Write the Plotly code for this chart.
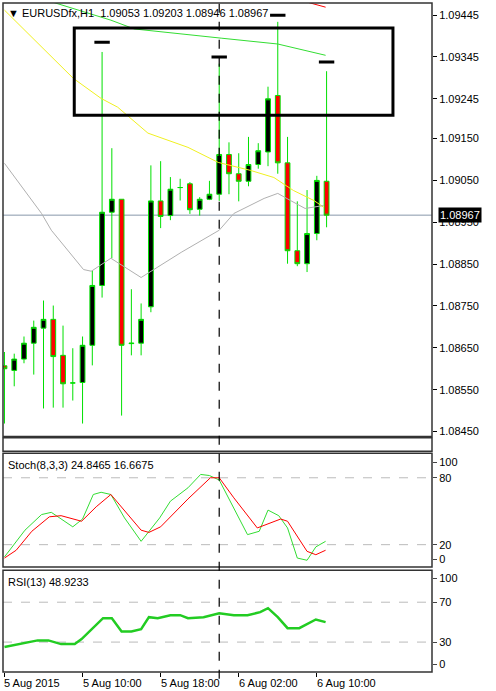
import plotly.graph_objects as go

# ---- data ----
idx = list(range(34))
opens = [1.08607,1.08596,1.08623,1.08661,1.08697,1.08718,1.08632,1.08566,1.08567,1.08656,1.08799,1.08974,1.09005,1.08660,1.08661,1.08748,1.09001,1.08966,1.09033,1.09042,1.08981,1.09005,1.09017,1.09112,1.09066,1.09048,1.09088,1.09118,1.09253,1.09092,1.08882,1.08851,1.08923,1.09048]
highs = [1.08640,1.08636,1.08677,1.08715,1.08763,1.08751,1.08703,1.08649,1.08677,1.08835,1.09357,1.09127,1.09005,1.08790,1.08756,1.09086,1.09096,1.09058,1.09054,1.09046,1.09010,1.09049,1.09329,1.09141,1.09115,1.09154,1.09139,1.09274,1.09429,1.09154,1.09000,1.09027,1.09061,1.09311]
lows = [1.08469,1.08558,1.08613,1.08586,1.08505,1.08507,1.08507,1.08524,1.08469,1.08608,1.08770,1.08864,1.08488,1.08632,1.08632,1.08735,1.08936,1.08955,1.09002,1.08970,1.08966,1.09003,1.09001,1.09017,1.09000,1.09036,1.09078,1.09084,1.09066,1.08851,1.08845,1.08831,1.08907,1.08938]
closes = [1.08600,1.08623,1.08661,1.08699,1.08718,1.08629,1.08564,1.08566,1.08656,1.08799,1.08974,1.09005,1.08656,1.08661,1.08718,1.09001,1.08964,1.09029,1.09033,1.08980,1.09005,1.09017,1.09112,1.09066,1.09048,1.09088,1.09121,1.09245,1.09092,1.08882,1.08851,1.08923,1.09050,1.08967]

marker_x = [10, 22, 28, 33]
marker_y = [1.09380, 1.09345, 1.09445, 1.09333]

ma_green_x = [3.5, 4.8, 10.9, 13.3, 22.2, 28.0, 32.9]
ma_green_y = [1.09500, 1.09477, 1.09433, 1.09412, 1.09390, 1.09376, 1.09349]
ma_red_x = [30.4, 32.9]
ma_red_y = [1.09480, 1.09464]
ma_yellow_x = [0, 7.05, 9.9, 11.6, 14.7, 18.8, 21.9, 25.2, 27.6, 29.6, 31.7, 32.7]
ma_yellow_y = [1.09457, 1.09294, 1.09246, 1.09225, 1.09163, 1.09129, 1.09093, 1.09074, 1.09057, 1.09026, 1.09002, 1.08986]
ma_gray_x = [0, 3.8, 4.8, 8.1, 8.9, 10.9, 14.0, 18.1, 22.0, 23.5, 26.6, 28.0, 29.3, 30.8, 32.7]
ma_gray_y = [1.09091, 1.08971, 1.08931, 1.08837, 1.08833, 1.08864, 1.08818, 1.08878, 1.08931, 1.08971, 1.09007, 1.09019, 1.09002, 1.08983, 1.08990]

stoch_main_x = [0, 2.1, 3.8, 4.8, 7, 8, 9.1, 9.9, 10.9, 12.3, 14, 15.9, 17, 18.8, 20.1, 21, 22, 24.9, 26.1, 27, 28.1, 29, 30, 31, 31.9, 32.9]
stoch_main_y = [9, 33, 47, 49, 36, 43, 65, 67, 65, 44, 23, 44, 59, 71, 83, 82, 78, 29, 32, 51, 46, 35, 8, 6, 18, 23]
stoch_sig_x = [0, 1.2, 2.8, 4.6, 5.8, 7.9, 9.4, 10.9, 14, 14.8, 16, 18.8, 21.1, 22, 23.5, 25.9, 28.3, 29, 31, 31.9, 32.9]
stoch_sig_y = [8, 15, 32, 45, 46, 41, 54, 65, 33, 31, 36, 61, 80, 80, 62, 35, 43, 41, 14, 11, 15]

rsi_x = [0, 1.7, 3.4, 4.5, 5.8, 7.2, 7.9, 10.1, 11, 12, 13, 14, 14.8, 15.7, 17, 18, 18.8, 20.4, 22, 23.5, 24.9, 26.2, 27, 28, 29, 30.2, 31.9, 32.9]
rsi_y = [25, 28.3, 31.7, 31.7, 28, 28, 33, 54, 54, 40.7, 40.7, 43, 55, 54, 57, 57, 54, 55, 59, 57, 57, 60, 64, 55, 44, 44, 52.7, 50]

last_price = 1.08967
box_x = [7.15, 39.8]
box_y = [1.09206, 1.09414]
vline_x = 22

price_ticks = [1.09445, 1.09345, 1.09245, 1.09150, 1.09050, 1.08950, 1.08850, 1.08750, 1.08650, 1.08550, 1.08450]
time_tick_x = [0, 8, 16, 24, 32]
time_tick_text = ["5 Aug 2015", "5 Aug 10:00", "5 Aug 18:00", "6 Aug 02:00", "6 Aug 10:00"]
title_text = "▼ EURUSDfx,H1  1.09053 1.09203 1.08946 1.08967"

# ---- figure ----
FONT = "Liberation Sans"
XR = [-0.15, 43.8]
fig = go.Figure()

fig.add_trace(go.Candlestick(x=idx, open=opens, high=highs, low=lows, close=closes,
    increasing=dict(line=dict(color="#00e000", width=1), fillcolor="black"),
    decreasing=dict(line=dict(color="#00e000", width=1), fillcolor="#ff0000"),
    whiskerwidth=0, xaxis="x", yaxis="y", showlegend=False))
for xs, ys, c in [(ma_green_x, ma_green_y, "#33dd33"), (ma_red_x, ma_red_y, "#ff0000"),
                  (ma_yellow_x, ma_yellow_y, "#f0f020"), (ma_gray_x, ma_gray_y, "#b0b0b0")]:
    fig.add_trace(go.Scatter(x=xs, y=ys, mode="lines", line=dict(color=c, width=1),
                             xaxis="x", yaxis="y", showlegend=False, hoverinfo="skip"))
fig.add_trace(go.Scatter(x=marker_x, y=marker_y, mode="markers",
    marker=dict(symbol="line-ew", size=11, line=dict(color="black", width=3)),
    xaxis="x", yaxis="y", showlegend=False))

fig.add_trace(go.Scatter(x=stoch_main_x, y=stoch_main_y, mode="lines", line=dict(color="#33dd33", width=1),
                         xaxis="x3", yaxis="y3", showlegend=False))
fig.add_trace(go.Scatter(x=stoch_sig_x, y=stoch_sig_y, mode="lines", line=dict(color="#ff0000", width=1),
                         xaxis="x3", yaxis="y3", showlegend=False))
fig.add_trace(go.Scatter(x=rsi_x, y=rsi_y, mode="lines", line=dict(color="#22cc22", width=2.5),
                         xaxis="x4", yaxis="y4", showlegend=False))

tickfont = dict(family=FONT, size=11, color="black")
def xa(anchor):
    return dict(range=XR, anchor=anchor, showgrid=False, zeroline=False, showticklabels=False,
                ticks="", rangeslider=dict(visible=False), fixedrange=True)

dom_main = [0.352, 1.0]
dom_empty = [0.330, 0.350]
dom_stoch = [0.157, 0.327]
dom_rsi = [0.0, 0.152]

fig.update_layout(
    width=496, height=691, margin=dict(l=3, r=64, t=3, b=19, autoexpand=False),
    paper_bgcolor="white", plot_bgcolor="white", showlegend=False,
    xaxis=xa("y"), xaxis2=xa("y2"), xaxis3=xa("y3"),
    xaxis4=dict(range=XR, anchor="y4", showgrid=False, zeroline=False, showticklabels=False,
                ticks="outside", ticklen=4, tickcolor="black", tickvals=time_tick_x),
    yaxis=dict(domain=dom_main, range=[1.08438, 1.09474], side="right", tickvals=price_ticks,
               ticktext=[f"{v:.5f}" for v in price_ticks], ticks="outside", ticklen=4, tickcolor="black",
               tickfont=tickfont, showgrid=False, zeroline=False, anchor="x"),
    yaxis2=dict(domain=dom_empty, range=[0, 1], showticklabels=False, showgrid=False, zeroline=False, anchor="x2"),
    yaxis3=dict(domain=dom_stoch, range=[0, 102], side="right", tickvals=[6.6, 20, 80, 94],
                ticktext=["0", "20", "80", "100"], ticks="outside", ticklen=4, tickfont=tickfont,
                showgrid=False, zeroline=False, anchor="x3"),
    yaxis4=dict(domain=dom_rsi, range=[0, 102], side="right", tickvals=[8, 30, 70, 94],
                ticktext=["0", "30", "70", "100"], ticks="outside", ticklen=4, tickfont=tickfont,
                showgrid=False, zeroline=False, anchor="x4"),
)

shapes = []
for d in [dom_main, dom_empty, dom_stoch, dom_rsi]:
    shapes.append(dict(type="rect", xref="paper", yref="paper", x0=0, x1=1, y0=d[0], y1=d[1],
                       line=dict(color="#333333", width=1.5)))
shapes.append(dict(type="rect", xref="x", yref="y", x0=box_x[0], x1=box_x[1], y0=box_y[0], y1=box_y[1],
                   line=dict(color="black", width=3)))
shapes.append(dict(type="line", xref="x", yref="y", x0=XR[0], x1=XR[1], y0=last_price, y1=last_price,
                   line=dict(color="#8898aa", width=1), layer="below"))
for yref, lv in [("y3", 20), ("y3", 80), ("y4", 30), ("y4", 70)]:
    shapes.append(dict(type="line", xref="x3" if yref == "y3" else "x4", yref=yref, x0=XR[0], x1=XR[1],
                       y0=lv, y1=lv, line=dict(color="#bbbbbb", width=1, dash="dash"), layer="below"))
shapes.append(dict(type="line", xref="x", yref="paper", x0=vline_x, x1=vline_x, y0=-0.01, y1=1,
                   line=dict(color="black", width=1.2, dash="dash")))
fig.update_layout(shapes=shapes)

ann = [
    dict(xref="paper", yref="paper", x=0.008, y=0.997, xanchor="left", yanchor="top", showarrow=False,
         text=title_text, font=dict(family=FONT, size=11, color="black")),
    dict(xref="paper", yref="y", x=1.0, y=last_price, xanchor="left", yanchor="middle", showarrow=False,
         text=f"{last_price:.5f}", bgcolor="black", font=dict(family=FONT, size=11, color="white"),
         borderpad=1, xshift=6),
    dict(xref="paper", yref="paper", x=0.008, y=dom_stoch[1] - 0.005, xanchor="left", yanchor="top",
         showarrow=False, text="Stoch(8,3,3) 24.8465 16.6675", font=dict(family=FONT, size=11, color="black")),
    dict(xref="paper", yref="paper", x=0.008, y=dom_rsi[1] - 0.005, xanchor="left", yanchor="top",
         showarrow=False, text="RSI(13) 48.9233", font=dict(family=FONT, size=11, color="black")),
]
for tx, tt in zip(time_tick_x, time_tick_text):
    ann.append(dict(xref="x4", yref="paper", x=tx, y=-0.004, xanchor="left", yanchor="top", showarrow=False,
                    text=tt, font=dict(family=FONT, size=11, color="black"), xshift=-2))
fig.update_layout(annotations=ann)

fig.write_html("out.html", config={"displayModeBar": False},
               post_script="document.body.style.margin='0';document.body.style.padding='0';")
